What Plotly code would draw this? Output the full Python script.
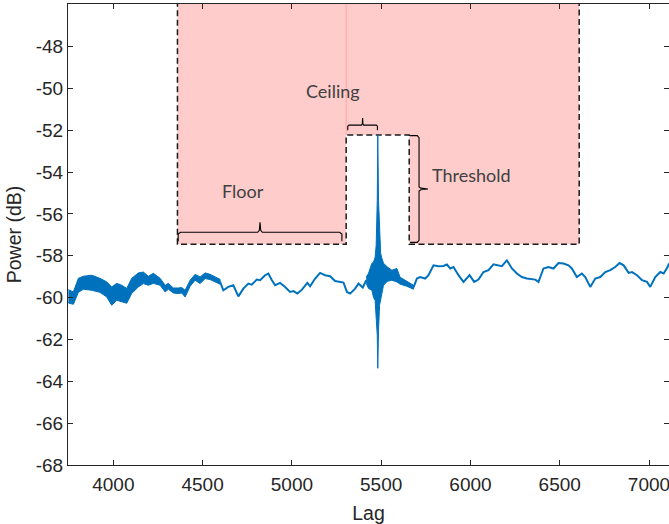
import plotly.graph_objects as go

# ---------------- data ----------------
# Left, noisy part of the trace: upper / lower envelope of the noise band
noise_lag = [3748, 3776, 3804, 3832, 3879, 3925, 3963, 3991, 4019, 4047, 4075, 4103, 4140, 4168, 4196,
             4224, 4262, 4290, 4308, 4336, 4364, 4383, 4402, 4430, 4458, 4486, 4514, 4542, 4570, 4598]
noise_hi = [-59.62, -59.73, -59.08, -58.98, -58.93, -59.08, -59.25, -59.49, -59.32, -59.41, -59.56, -59.08,
            -58.82, -58.78, -58.98, -58.84, -59.08, -59.41, -59.32, -59.54, -59.54, -59.52, -59.65, -59.17,
            -58.89, -59.01, -58.82, -58.89, -59.01, -59.13]
noise_lo = [-60.26, -60.32, -59.75, -59.60, -59.65, -59.75, -59.97, -60.37, -60.13, -60.21, -60.27, -59.80,
            -59.49, -59.33, -59.41, -59.32, -59.41, -59.73, -59.60, -59.78, -59.81, -59.78, -59.97, -59.46,
            -59.17, -59.33, -59.09, -59.14, -59.25, -59.36]

# Thin part of the trace (before and after the peak)
trace_lag = [4598, 4616, 4644, 4672, 4700, 4728, 4756, 4775, 4803, 4822, 4850, 4868, 4888, 4906, 4934,
             4962, 4990, 5009, 5031, 5056, 5087, 5102, 5130, 5158, 5186, 5214, 5242, 5270, 5289, 5308,
             5326, 5354, 5373, 5397, 5416,
             5681, 5700, 5718, 5746, 5765, 5793, 5821, 5849, 5868, 5887, 5905, 5933, 5961, 5995, 6021,
             6045, 6073, 6101, 6129, 6157, 6176, 6204, 6232, 6260, 6288, 6316, 6344, 6363, 6381, 6409,
             6437, 6465, 6493, 6521, 6549, 6568, 6596, 6624, 6643, 6671, 6699, 6727, 6755, 6783, 6811,
             6835, 6858, 6886, 6905, 6933, 6961, 6989, 7007, 7035, 7063, 7082, 7104, 7112]
trace_pow = [-59.25, -59.65, -59.49, -59.41, -59.94, -59.57, -59.33, -59.38, -59.14, -59.17, -58.93, -58.85,
             -59.17, -59.41, -59.30, -59.49, -59.73, -59.69, -59.81, -59.62, -59.30, -59.46, -59.09, -58.82,
             -58.93, -58.98, -59.21, -59.25, -59.28, -59.73, -59.81, -59.57, -59.33, -59.52, -59.17,
             -59.51, -59.09, -59.02, -59.09, -58.93, -58.46, -58.50, -58.49, -58.42, -58.61, -58.54, -58.93,
             -59.25, -58.93, -59.25, -59.14, -58.78, -58.69, -58.41, -58.46, -58.50, -58.22, -58.61, -58.85,
             -59.02, -59.09, -59.14, -59.14, -59.25, -58.61, -58.54, -58.61, -58.35, -58.37, -58.46, -58.61,
             -59.02, -58.85, -59.02, -59.49, -59.09, -59.02, -58.78, -58.69, -58.54, -58.35, -58.46, -58.82,
             -58.78, -58.93, -59.17, -59.25, -59.49, -59.02, -58.78, -58.85, -58.54, -58.37]

# Peak region: envelope including the central spike
peak_lag = [5416, 5429, 5448, 5457, 5466, 5472, 5478, 5481, 5485, 5491, 5497, 5504, 5513, 5535, 5560,
            5588, 5606, 5644, 5681]
peak_hi = [-59.03, -58.84, -58.36, -58.31, -58.07, -57.50, -55.35, -52.23, -55.35, -57.26, -57.88, -58.12,
           -58.36, -58.54, -58.69, -58.61, -59.03, -59.22, -59.41]
peak_lo = [-59.32, -59.56, -59.65, -59.99, -60.13, -60.61, -61.80, -63.38, -61.57, -60.37, -60.13, -59.75,
           -59.41, -59.22, -59.17, -59.25, -59.36, -59.46, -59.60]

# Search-window parameters (shaded region)
floor_left, ceil_left, ceil_right, floor_right = 4359, 5304, 5657, 6609
floor_level, ceiling_level = -57.45, -52.23
region_top = -44.0   # beyond the top of the axes (clipped)

# Annotation positions
label_text = ["Floor", "Ceiling", "Threshold"]
label_lag = [4727, 5231, 6008]
label_pow = [-54.90, -50.11, -54.15]

# Axis ticks
x_ticks = [4000, 4500, 5000, 5500, 6000, 6500, 7000]
x_ticklabels = ["4000", "4500", "5000", "5500", "6000", "6500", "7000"]
y_ticks = [-68, -66, -64, -62, -60, -58, -56, -54, -52, -50, -48]
y_ticklabels = ["-68", "-66", "-64", "-62", "-60", "-58", "-56", "-54", "-52", "-50", "-48"]
x_range = [3746, 7112]
y_range = [-68, -45.97]

BLUE = "#0072BD"
PINK = "#FFCCCC"
AX = "#262626"
AXFONT = "Liberation Sans"

fig = go.Figure()

# shaded region (polygon with notch)
reg_x = [floor_left, floor_left, ceil_left, ceil_left, ceil_right, ceil_right, floor_right, floor_right]
reg_y = [region_top, floor_level, floor_level, ceiling_level, ceiling_level, floor_level, floor_level, region_top]
fig.add_trace(go.Scatter(x=reg_x, y=reg_y, fill="toself", fillcolor=PINK, mode="none",
                         hoverinfo="skip", showlegend=False))
# faint seam line
fig.add_trace(go.Scatter(x=[ceil_left, ceil_left], y=[ceiling_level, region_top], mode="lines",
                         line=dict(color="rgba(255,150,150,0.7)", width=1), hoverinfo="skip", showlegend=False))
# dashed outline
fig.add_trace(go.Scatter(x=reg_x, y=reg_y, mode="lines",
                         line=dict(color="#1a1a1a", width=1.5, dash="6px,3.5px"),
                         hoverinfo="skip", showlegend=False))

# signal: noisy band (left)
fig.add_trace(go.Scatter(x=noise_lag + noise_lag[::-1], y=noise_hi + noise_lo[::-1], fill="toself",
                         fillcolor=BLUE, mode="lines", line=dict(color=BLUE, width=1),
                         hoverinfo="skip", showlegend=False))
# thin trace
fig.add_trace(go.Scatter(x=trace_lag[:35], y=trace_pow[:35], mode="lines",
                         line=dict(color=BLUE, width=2), showlegend=False))
fig.add_trace(go.Scatter(x=trace_lag[35:], y=trace_pow[35:], mode="lines",
                         line=dict(color=BLUE, width=2), showlegend=False))
# peak band
fig.add_trace(go.Scatter(x=peak_lag + peak_lag[::-1], y=peak_hi + peak_lo[::-1], fill="toself",
                         fillcolor=BLUE, mode="lines", line=dict(color=BLUE, width=1),
                         hoverinfo="skip", showlegend=False))


# braces
def brace_h(x0, x1, base, end, tip):
    dx = (x1 - x0) * 0.014 if (x1 - x0) > 400 else 6
    mid = (x0 + x1) / 2
    d = base - end
    xs = [x0, x0, x0 + dx, mid - dx, mid - dx * 0.3, mid, mid + dx * 0.3, mid + dx, x1 - dx, x1, x1]
    ys = [end, base - d * 0.2, base, base, base + (tip - base) * 0.2, tip, base + (tip - base) * 0.2,
          base, base, base - d * 0.2, end]
    return xs, ys


def brace_v(y0, y1, base, end, tip):
    mid = (y0 + y1) / 2
    dy = 0.1
    dx = (base - end) * 0.2
    xs = [end, base - dx, base, base, base + dx, tip, base + dx, base, base, base - dx, end]
    ys = [y0, y0, y0 - dy, mid + dy, mid + 0.04, mid, mid - 0.04, mid - dy, y1 + dy, y1, y1]
    return xs, ys


for xs, ys in [brace_h(4363, 5280, -56.88, -57.31, -56.40),
               brace_h(5313, 5479, -51.76, -52.00, -51.42),
               brace_v(-52.26, -57.36, 5712, 5662, 5762)]:
    fig.add_trace(go.Scatter(x=xs, y=ys, mode="lines", line=dict(color="black", width=1.1),
                             hoverinfo="skip", showlegend=False))

for t, lx, ly in zip(label_text, label_lag, label_pow):
    fig.add_annotation(x=lx, y=ly, text=t, showarrow=False,
                       font=dict(family="Lato", size=18, color="#404040"))

axis_common = dict(showline=True, linecolor=AX, linewidth=1, mirror="ticks", ticks="inside",
                   ticklen=5, tickcolor=AX, tickwidth=1, showgrid=False, zeroline=False,
                   automargin=False, ticklabeloverflow="allow",
                   tickfont=dict(family=AXFONT, size=19, color=AX))

fig.update_layout(
    width=669, height=524,
    margin=dict(l=68, r=0, t=4, b=59, autoexpand=False),
    paper_bgcolor="white", plot_bgcolor="white",
    font=dict(family=AXFONT),
    xaxis=dict(range=x_range, tickmode="array", tickvals=x_ticks, ticktext=x_ticklabels,
               ticklabelstandoff=2,
               title=dict(text="Lag", font=dict(family=AXFONT, size=19.5, color=AX), standoff=12),
               **axis_common),
    yaxis=dict(range=y_range, tickmode="array", tickvals=y_ticks, ticktext=y_ticklabels,
               title=dict(text="Power (dB)", font=dict(family=AXFONT, size=19.5, color=AX),
                          standoff=8),
               **axis_common),
)

fig.write_html("out.html", config={"displayModeBar": False},
               post_script="document.body.style.margin='0';document.body.style.padding='0';"
                           "document.body.style.overflow='hidden';")
